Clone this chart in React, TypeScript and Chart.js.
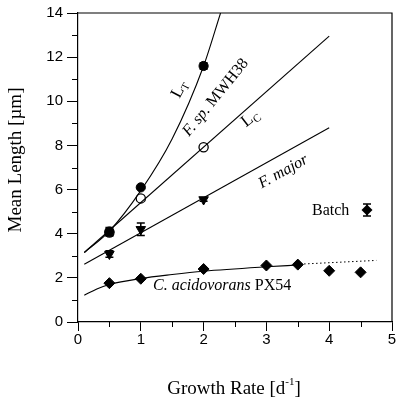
import React, { useEffect, useRef } from "react";
import { Chart, registerables } from "chart.js";

Chart.register(...registerables);

// ---- data ----
// L_T (filled circles)
const ltX = [0.5, 1, 2];
const ltY = [4.1, 6.1, 11.6];
const ltErr = [0.18, 0.05, 0.15];
// F. sp. MWH38 (open circles)
const mwhX = [0.5, 1, 2];
const mwhY = [4.05, 5.6, 7.92];
const mwhErr = [0.15, 0, 0];
// F. major (down triangles)
const fmX = [0.5, 1, 2];
const fmY = [3.08, 4.2, 5.55];
const fmErr = [0.15, 0.28, 0.08];
// C. acidovorans PX54 (diamonds)
const caX = [0.5, 1, 2, 3, 3.5];
const caY = [1.76, 1.96, 2.4, 2.56, 2.6];
// Batch (diamonds)
const batchX = [4, 4.5];
const batchY = [2.32, 2.25];

// fitted curves
const ltFitX = [0.1, 0.5, 1, 1.5, 2, 2.27];
const ltFitY = [3.15, 4.12, 5.95, 8.3, 11.6, 14];
const lcFitX = [0.1, 4.0];
const lcFitY = [3.15, 12.95];
const fmFitX = [0.1, 4.0];
const fmFitY = [2.62, 8.8];
const caFitX = [0.1, 0.3, 0.5, 1, 1.5, 2, 3, 3.5];
const caFitY = [1.21, 1.5, 1.7, 1.97, 2.15, 2.3, 2.5, 2.58];
const caExtX = [3.6, 4.75];
const caExtY = [2.63, 2.79];

// axis settings
const xMin = 0, xMax = 5, xMajor = 1, xMinor = 0.5;
const yMin = 0, yMax = 14, yMajor = 2, yMinor = 1;

const pts = (xs: number[], ys: number[]) => xs.map((x, i) => ({ x, y: ys[i] }));

const SERIF = "'Liberation Serif', 'Times New Roman', serif";
const SANS = "'Liberation Sans', Arial, sans-serif";

type Run = { text: string; font: string; dy?: number };

function drawRuns(ctx: CanvasRenderingContext2D, cx: number, cy: number, angleDeg: number, runs: Run[]) {
  ctx.save();
  let total = 0;
  const widths = runs.map((r) => {
    ctx.font = r.font;
    const w = ctx.measureText(r.text).width;
    total += w;
    return w;
  });
  ctx.translate(cx, cy);
  ctx.rotate((angleDeg * Math.PI) / 180);
  ctx.fillStyle = "#000";
  ctx.textBaseline = "alphabetic";
  ctx.textAlign = "left";
  let x = -total / 2;
  runs.forEach((r, i) => {
    ctx.font = r.font;
    ctx.fillText(r.text, x, 5 + (r.dy || 0));
    x += widths[i];
  });
  ctx.restore();
}

const decorPlugin = {
  id: "decor",
  afterDatasetsDraw(chart: any) {
    const ctx: CanvasRenderingContext2D = chart.ctx;
    const { left, right, top, bottom } = chart.chartArea;
    const xs = chart.scales.x;
    const ys = chart.scales.y;
    ctx.save();
    // frame
    ctx.strokeStyle = "#000";
    ctx.lineWidth = 1.2;
    ctx.beginPath();
    ctx.moveTo(left, top);
    ctx.lineTo(right, top);
    ctx.lineTo(right, bottom);
    ctx.stroke();
    // minor ticks
    ctx.lineWidth = 1;
    ctx.beginPath();
    for (let v = yMin + yMinor; v < yMax; v += yMajor) {
      const py = Math.round(ys.getPixelForValue(v)) + 0.5;
      ctx.moveTo(left, py);
      ctx.lineTo(left - 6, py);
    }
    for (let v = xMin + xMinor; v < xMax; v += xMajor) {
      const px = Math.round(xs.getPixelForValue(v)) + 0.5;
      ctx.moveTo(px, bottom);
      ctx.lineTo(px, bottom + 5);
    }
    ctx.stroke();

    // error bars
    chart.data.datasets.forEach((ds: any) => {
      if (!ds.errors) return;
      ds.data.forEach((p: any, i: number) => {
        const e = ds.errors[i];
        if (!e) return;
        const px = xs.getPixelForValue(p.x);
        const y1 = ys.getPixelForValue(p.y + e);
        const y2 = ys.getPixelForValue(p.y - e);
        ctx.beginPath();
        ctx.lineWidth = 1.5;
        ctx.moveTo(px, y1);
        ctx.lineTo(px, y2);
        ctx.moveTo(px - 4, y1);
        ctx.lineTo(px + 4, y1);
        ctx.moveTo(px - 4, y2);
        ctx.lineTo(px + 4, y2);
        ctx.stroke();
      });
    });

    // legend "Batch"
    ctx.fillStyle = "#000";
    ctx.font = `16px ${SERIF}`;
    ctx.textBaseline = "alphabetic";
    ctx.fillText("Batch", 312, 215);
    const mx = 367, my = 210;
    ctx.beginPath();
    ctx.lineWidth = 1.5;
    ctx.moveTo(mx, my - 6);
    ctx.lineTo(mx, my + 6);
    ctx.moveTo(mx - 4, my - 6);
    ctx.lineTo(mx + 4, my - 6);
    ctx.moveTo(mx - 4, my + 6);
    ctx.lineTo(mx + 4, my + 6);
    ctx.stroke();
    ctx.beginPath();
    ctx.moveTo(mx, my - 5.5);
    ctx.lineTo(mx + 5.5, my);
    ctx.lineTo(mx, my + 5.5);
    ctx.lineTo(mx - 5.5, my);
    ctx.closePath();
    ctx.fill();

    // curve labels
    drawRuns(ctx, 179, 89, -62, [
      { text: "L", font: `17px ${SERIF}` },
      { text: "T", font: `11px ${SERIF}`, dy: 3 },
    ]);
    drawRuns(ctx, 215, 97, -51, [
      { text: "F. sp. ", font: `italic 16px ${SERIF}` },
      { text: "MWH38", font: `16px ${SERIF}` },
    ]);
    drawRuns(ctx, 250, 118, -38, [
      { text: "L", font: `17px ${SERIF}` },
      { text: "C", font: `11px ${SERIF}`, dy: 3 },
    ]);
    drawRuns(ctx, 283, 171, -29, [{ text: "F. major", font: `italic 16px ${SERIF}` }]);

    ctx.font = `italic 16px ${SERIF}`;
    ctx.fillText("C. acidovorans ", 153, 290);
    const w = ctx.measureText("C. acidovorans ").width;
    ctx.font = `16px ${SERIF}`;
    ctx.fillText("PX54", 153 + w, 290);

    // axis titles
    const t1 = "Growth Rate [d";
    const t2 = "-1";
    const t3 = "]";
    ctx.font = `19px ${SERIF}`;
    const w1 = ctx.measureText(t1).width;
    const w3 = ctx.measureText(t3).width;
    ctx.font = `11px ${SERIF}`;
    const w2 = ctx.measureText(t2).width;
    const cx = 234;
    const sx = cx - (w1 + w2 + w3) / 2;
    ctx.font = `19px ${SERIF}`;
    ctx.fillText(t1, sx, 394);
    ctx.font = `11px ${SERIF}`;
    ctx.fillText(t2, sx + w1, 385);
    ctx.font = `19px ${SERIF}`;
    ctx.fillText(t3, sx + w1 + w2, 394);

    ctx.save();
    ctx.translate(21, 160);
    ctx.rotate(-Math.PI / 2);
    ctx.font = `19px ${SERIF}`;
    ctx.textAlign = "center";
    ctx.fillText("Mean Length [\u00b5m]", 0, 0);
    ctx.restore();

    ctx.restore();
  },
};

export default function App() {
  const ref = useRef<HTMLCanvasElement | null>(null);
  useEffect(() => {
    if (!ref.current) return;
    const line = (xs: number[], ys: number[], extra: any = {}) => ({
      data: pts(xs, ys),
      showLine: true,
      pointRadius: 0,
      borderColor: "#000",
      borderWidth: 1.1,
      cubicInterpolationMode: "monotone",
      ...extra,
    });
    const chart = new Chart(ref.current, {
      type: "scatter",
      data: {
        datasets: [
          line(ltFitX, ltFitY),
          line(lcFitX, lcFitY),
          line(fmFitX, fmFitY),
          line(caFitX, caFitY),
          line(caExtX, caExtY, { borderDash: [1.5, 2.5], borderWidth: 1 }),
          {
            data: pts(ltX, ltY),
            errors: ltErr,
            pointStyle: "circle",
            pointRadius: 4.6,
            backgroundColor: "#000",
            borderColor: "#000",
          } as any,
          {
            data: pts(mwhX, mwhY),
            errors: mwhErr,
            pointStyle: "circle",
            pointRadius: 4.6,
            backgroundColor: "#fff",
            borderColor: "#000",
            borderWidth: 1.3,
          } as any,
          {
            data: pts(fmX, fmY),
            errors: fmErr,
            pointStyle: "triangle",
            rotation: 180,
            pointRadius: 5.5,
            backgroundColor: "#000",
            borderColor: "#000",
          } as any,
          {
            data: pts(caX, caY),
            pointStyle: "rectRot",
            pointRadius: 5.5,
            backgroundColor: "#000",
            borderColor: "#000",
          },
          {
            data: pts(batchX, batchY),
            pointStyle: "rectRot",
            pointRadius: 5.5,
            backgroundColor: "#000",
            borderColor: "#000",
          },
        ],
      },
      options: {
        animation: false,
        responsive: false,
        devicePixelRatio: 1,
        layout: { padding: { top: 10, right: 8, left: 0, bottom: 0 } },
        plugins: { legend: { display: false }, tooltip: { enabled: false } },
        scales: {
          x: {
            type: "linear",
            min: xMin,
            max: xMax,
            ticks: { stepSize: xMajor, color: "#000", font: { family: SANS, size: 15 }, padding: 0, maxRotation: 0 },
            grid: { drawOnChartArea: false, tickLength: 9, color: "#000", tickColor: "#000" },
            border: { color: "#000", width: 1.2 },
            afterFit: (s: any) => {
              s.height = 84;
            },
          },
          y: {
            type: "linear",
            min: yMin,
            max: yMax,
            ticks: { stepSize: yMajor, color: "#000", font: { family: SANS, size: 15 }, padding: 4 },
            grid: { drawOnChartArea: false, tickLength: 11, color: "#000", tickColor: "#000" },
            border: { color: "#000", width: 1.2 },
            afterFit: (s: any) => {
              s.width = 78;
            },
          },
        },
      },
      plugins: [decorPlugin],
    } as any);
    return () => chart.destroy();
  }, []);
  return (
    <div style={{ position: "fixed", left: 0, top: 0, width: 400, height: 406, background: "#fff" }}>
      <canvas ref={ref} width={400} height={406} style={{ display: "block" }} />
    </div>
  );
}
